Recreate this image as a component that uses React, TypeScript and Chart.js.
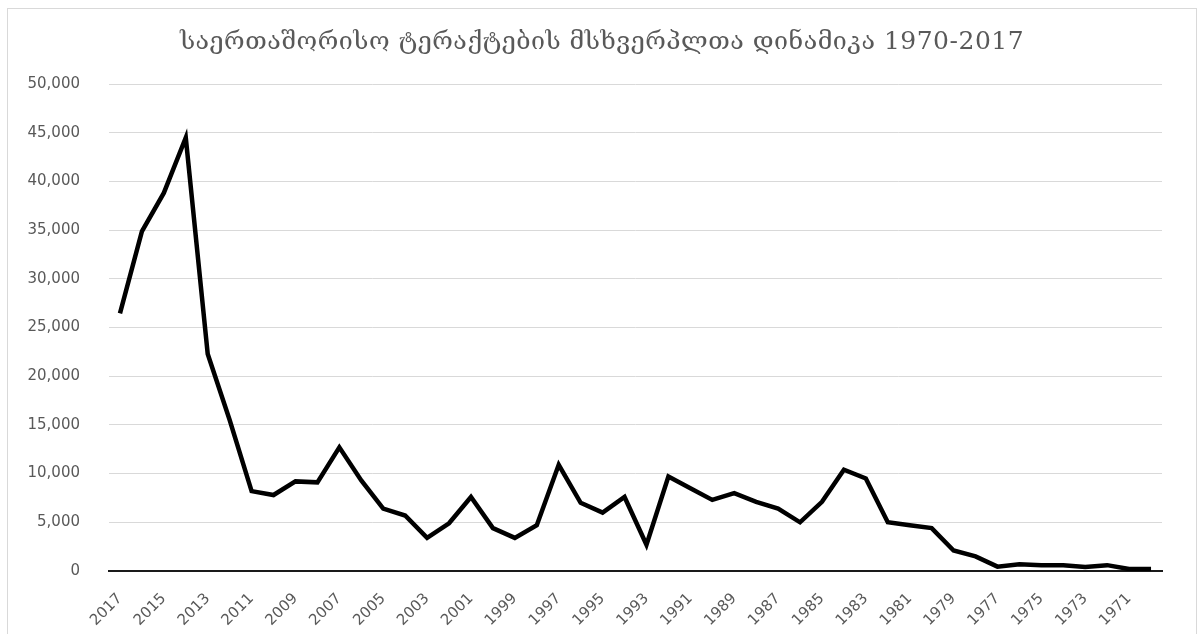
import React, { useEffect, useRef } from "react";
import { Chart, registerables } from "chart.js";

Chart.register(...registerables);

const TITLE = "საერთაშორისო ტერაქტების მსხვერპლთა დინამიკა 1970-2017";

const years: string[] = [
  "2017", "2016", "2015", "2014", "2013", "2012", "2011", "2010", "2009", "2008",
  "2007", "2006", "2005", "2004", "2003", "2002", "2001", "2000", "1999", "1998",
  "1997", "1996", "1995", "1994", "1993", "1992", "1991", "1990", "1989", "1988",
  "1987", "1986", "1985", "1984", "1983", "1982", "1981", "1980", "1979", "1978",
  "1977", "1976", "1975", "1974", "1973", "1972", "1971", "1970",
];

const victims: number[] = [
  26445, 34871, 38816, 44490, 22273, 15500, 8200, 7800, 9200, 9100,
  12700, 9300, 6400, 5700, 3400, 4900, 7600, 4400, 3400, 4700,
  10900, 7000, 6000, 7600, 2700, 9700, 8500, 7300, 8000, 7100,
  6400, 5000, 7100, 10400, 9500, 5000, 4700, 4400, 2100, 1500,
  450, 700, 600, 600, 400, 600, 200, 200,
];

const yTicks: number[] = [0, 5000, 10000, 15000, 20000, 25000, 30000, 35000, 40000, 45000, 50000];

const frameAndTitle = {
  id: "frameAndTitle",
  beforeDraw(chart: any) {
    const ctx = chart.ctx;
    ctx.save();
    ctx.fillStyle = "#ffffff";
    ctx.fillRect(0, 0, chart.width, chart.height);
    ctx.strokeStyle = "#d9d9d9";
    ctx.lineWidth = 1;
    ctx.strokeRect(7.5, 8.5, 1189, 640);
    ctx.fillStyle = "#595959";
    ctx.font = "25px 'DejaVu Serif'";
    (ctx as any).letterSpacing = "0.5px";
    ctx.textAlign = "center";
    ctx.textBaseline = "middle";
    ctx.fillText(TITLE, 602, 42);
    ctx.restore();
  },
};

export default function App() {
  const ref = useRef<HTMLCanvasElement | null>(null);
  useEffect(() => {
    if (!ref.current) return;
    const chart = new Chart(ref.current, {
      type: "line",
      data: {
        labels: years,
        datasets: [
          {
            data: victims,
            borderColor: "#000000",
            borderWidth: 4.5,
            pointRadius: 0,
            tension: 0,
            fill: false,
          },
        ],
      },
      options: {
        animation: false,
        responsive: false,
        maintainAspectRatio: false,
        layout: { padding: { top: 84, left: 20, right: 42, bottom: 0 } },
        plugins: {
          legend: { display: false },
          title: { display: false },
          tooltip: { enabled: false },
        },
        scales: {
          x: {
            offset: true,
            grid: { display: false, drawTicks: false },
            border: { display: true, color: "#1a1a1a", width: 2 },
            ticks: {
              autoSkip: false,
              minRotation: 45,
              maxRotation: 45,
              padding: 19,
              color: "#595959",
              font: { family: "'DejaVu Sans'", size: 15 },
              callback: (_v: any, i: number) => (i % 2 === 0 ? years[i] : ""),
            },
            afterFit: (s: any) => {
              s.height = 63;
            },
          },
          y: {
            min: 0,
            max: 50000,
            afterBuildTicks: (s: any) => {
              s.ticks = yTicks.map((v) => ({ value: v }));
            },
            grid: { color: "#d9d9d9", lineWidth: 1, drawTicks: false },
            border: { display: false },
            ticks: {
              padding: 29,
              color: "#595959",
              font: { family: "'DejaVu Sans'", size: 15 },
              callback: (v: any) => Number(v).toLocaleString("en-US"),
            },
            afterFit: (s: any) => {
              s.width = 89;
            },
          },
        },
      },
      plugins: [frameAndTitle],
    });
    return () => chart.destroy();
  }, []);
  return (
    <div style={{ position: "absolute", left: 0, top: 0, width: 1204, height: 634 }}>
      <canvas ref={ref} width={1204} height={634} style={{ display: "block" }} />
    </div>
  );
}
